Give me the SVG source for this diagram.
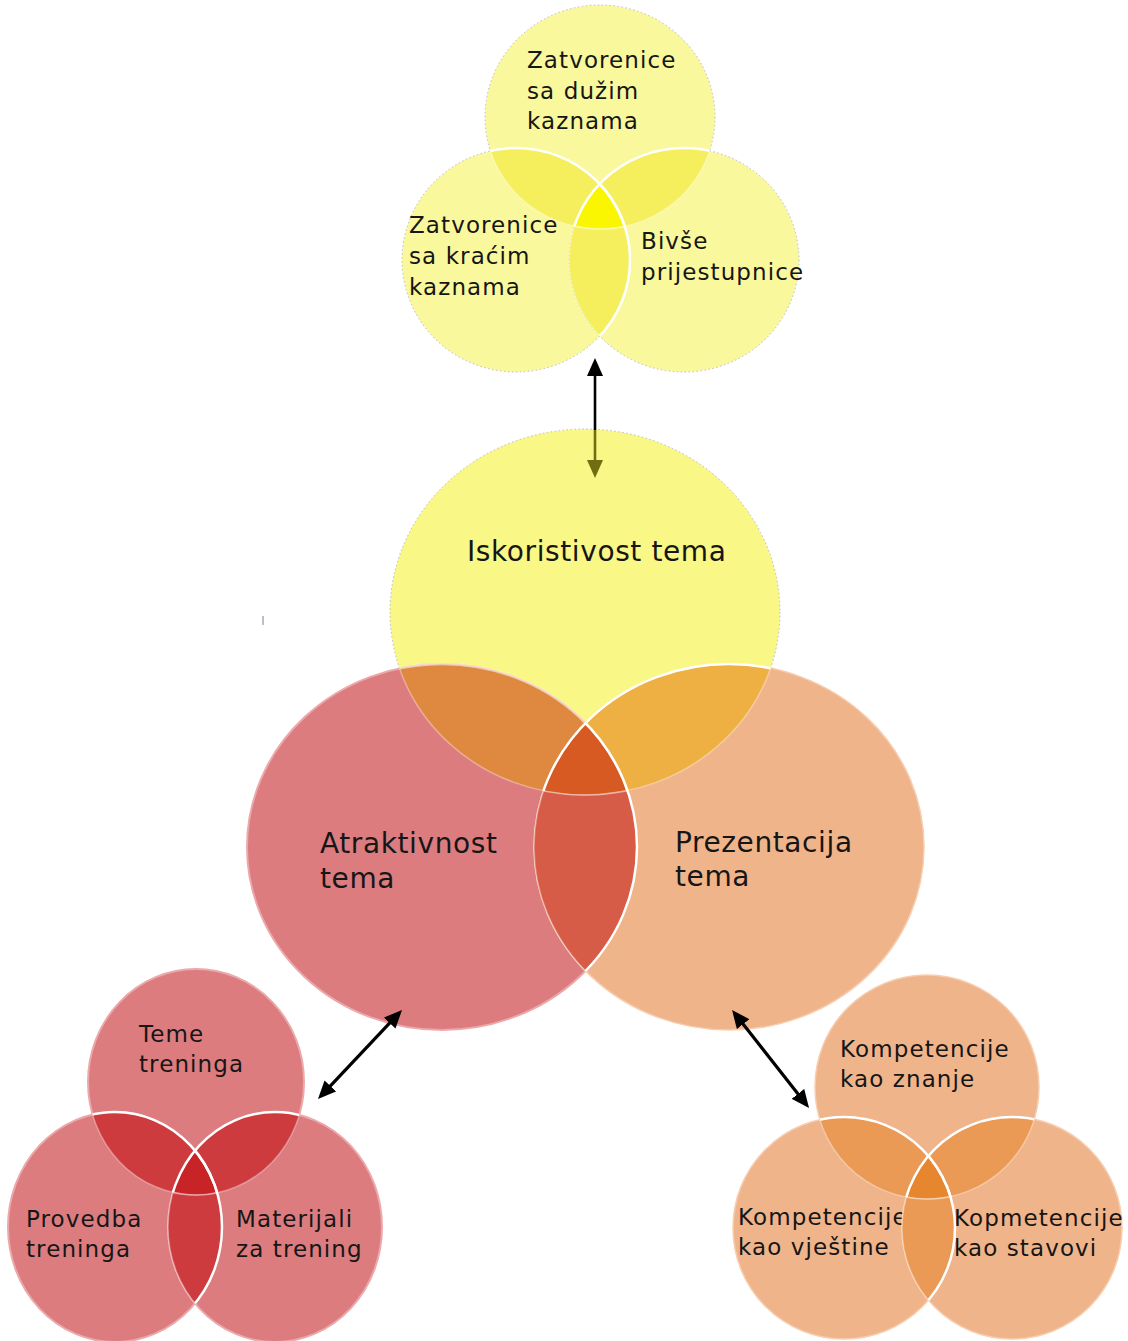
<svg xmlns="http://www.w3.org/2000/svg" xmlns:xlink="http://www.w3.org/1999/xlink" width="1128" height="1341" viewBox="0 0 1128 1341">
<style>
text{font-family:"DejaVu Sans",Verdana,sans-serif;fill:#161616}
.sm{font-size:23px;letter-spacing:1.1px}
.lg{font-size:28px;letter-spacing:0.6px}
.ys{fill:#FAF89C;stroke:#B8B8CC;stroke-width:1;stroke-dasharray:1.5 2.5}
.yb{fill:#F9F785;stroke:#B8B8CC;stroke-width:1;stroke-dasharray:1.5 2.5}
.rs{fill:#DC7C7F;stroke:#EBA9AB;stroke-width:2}
.ps{fill:#F0B48B;stroke:#F6CDB0;stroke-width:1.5}
.ws{fill:none;stroke:#fff;stroke-width:2.5}
.ws2{fill:none;stroke:#fff;stroke-width:2.5;stroke-opacity:.55}
.fs{fill:none;stroke:#fff;stroke-width:1.5;stroke-opacity:.35}
.conn{stroke:#000;stroke-width:3.2;fill:none}
</style>
<defs>
<ellipse id="T1" cx="600" cy="117" rx="115" ry="112"/>
<ellipse id="L1" cx="516" cy="260" rx="114" ry="112"/>
<ellipse id="R1" cx="684" cy="260" rx="115" ry="112"/>
<ellipse id="T2" cx="585" cy="612" rx="195" ry="183"/>
<ellipse id="L2" cx="442" cy="847" rx="195" ry="183"/>
<ellipse id="R2" cx="729" cy="847" rx="195" ry="183"/>
<ellipse id="T3" cx="196" cy="1082" rx="108" ry="113"/>
<ellipse id="L3" cx="115" cy="1227" rx="107" ry="115"/>
<ellipse id="R3" cx="275" cy="1227" rx="107" ry="115"/>
<ellipse id="T4" cx="927" cy="1087" rx="112" ry="112"/>
<ellipse id="L4" cx="844" cy="1228" rx="111" ry="111"/>
<ellipse id="R4" cx="1012" cy="1228" rx="110" ry="111"/>
<clipPath id="cT1"><use xlink:href="#T1"/></clipPath>
<clipPath id="cL1"><use xlink:href="#L1"/></clipPath>
<clipPath id="cR1"><use xlink:href="#R1"/></clipPath>
<clipPath id="cT2"><use xlink:href="#T2"/></clipPath>
<clipPath id="cL2"><use xlink:href="#L2"/></clipPath>
<clipPath id="cR2"><use xlink:href="#R2"/></clipPath>
<clipPath id="cT3"><use xlink:href="#T3"/></clipPath>
<clipPath id="cL3"><use xlink:href="#L3"/></clipPath>
<clipPath id="cR3"><use xlink:href="#R3"/></clipPath>
<clipPath id="cT4"><use xlink:href="#T4"/></clipPath>
<clipPath id="cL4"><use xlink:href="#L4"/></clipPath>
<clipPath id="cR4"><use xlink:href="#R4"/></clipPath>
<marker id="ah" viewBox="0 0 18 16" refX="4" refY="8" markerWidth="18" markerHeight="16" markerUnits="userSpaceOnUse" orient="auto-start-reverse"><path d="M0,0 L18,8 L0,16 z" fill="#000"/></marker>
<marker id="aho" viewBox="0 0 18 16" refX="4" refY="8" markerWidth="18" markerHeight="16" markerUnits="userSpaceOnUse" orient="auto-start-reverse"><path d="M0,0 L18,8 L0,16 z" fill="#6F6F12"/></marker>
</defs>
<rect width="1128" height="1341" fill="#fff"/>

<!-- Top cluster -->
<g id="cluster-korisnice">
<g id="node-duze-kazne"><use xlink:href="#T1" class="ys"/>
<text class="sm" x="527" y="68">Zatvorenice<tspan x="527" y="99">sa dužim</tspan><tspan x="527" y="129">kaznama</tspan></text></g>
<g id="node-krace-kazne"><use xlink:href="#L1" class="ys"/>
<text class="sm" x="409" y="233">Zatvorenice<tspan x="409" y="264">sa kraćim</tspan><tspan x="409" y="295">kaznama</tspan></text></g>
<g id="node-bivse"><use xlink:href="#R1" class="ys"/>
<text class="sm" x="641" y="249">Bivše<tspan x="641" y="280">prijestupnice</tspan></text></g>
<g id="overlaps-1">
<use xlink:href="#L1" clip-path="url(#cT1)" fill="#F5EF5E"/>
<use xlink:href="#R1" clip-path="url(#cT1)" fill="#F5EF5E"/>
<use xlink:href="#R1" clip-path="url(#cL1)" fill="#F5EF5E"/>
<g clip-path="url(#cT1)"><use xlink:href="#R1" clip-path="url(#cL1)" fill="#FAF500"/></g>
<g clip-path="url(#cL1)"><use xlink:href="#T1" class="fs"/><use xlink:href="#R1" class="fs"/></g>
<g clip-path="url(#cR1)"><use xlink:href="#T1" class="fs"/></g>
<g clip-path="url(#cT1)"><use xlink:href="#L1" class="ws"/><use xlink:href="#R1" class="ws"/></g>
<g clip-path="url(#cR1)"><use xlink:href="#L1" class="ws"/></g>
</g>
</g>

<!-- Middle cluster -->
<g id="cluster-teme">
<g id="node-iskoristivost"><use xlink:href="#T2" class="yb"/>
<text class="lg" x="467" y="561">Iskoristivost tema</text></g>
<g id="node-atraktivnost"><use xlink:href="#L2" class="rs"/>
<text class="lg" x="320" y="853">Atraktivnost<tspan x="320" y="888">tema</tspan></text></g>
<g id="node-prezentacija"><use xlink:href="#R2" class="ps"/>
<text class="lg" x="675" y="852">Prezentacija<tspan x="675" y="886">tema</tspan></text></g>
<g id="overlaps-2">
<use xlink:href="#L2" clip-path="url(#cT2)" fill="#DF8840"/>
<use xlink:href="#R2" clip-path="url(#cT2)" fill="#EEB042"/>
<use xlink:href="#R2" clip-path="url(#cL2)" fill="#D75C48"/>
<g clip-path="url(#cT2)"><use xlink:href="#R2" clip-path="url(#cL2)" fill="#D65A22"/></g>
<g clip-path="url(#cL2)"><use xlink:href="#T2" class="fs"/><use xlink:href="#R2" class="fs"/></g>
<g clip-path="url(#cR2)"><use xlink:href="#T2" class="fs"/></g>
<g clip-path="url(#cT2)"><use xlink:href="#L2" class="ws2"/><use xlink:href="#R2" class="ws"/></g>
<g clip-path="url(#cR2)"><use xlink:href="#L2" class="ws"/></g>
</g>
</g>

<!-- Bottom-left cluster -->
<g id="cluster-trening">
<g id="node-teme-treninga"><use xlink:href="#T3" class="rs"/>
<text class="sm" x="139" y="1042">Teme<tspan x="139" y="1072">treninga</tspan></text></g>
<g id="node-provedba"><use xlink:href="#L3" class="rs"/>
<text class="sm" x="26" y="1227">Provedba<tspan x="26" y="1257">treninga</tspan></text></g>
<g id="node-materijali"><use xlink:href="#R3" class="rs"/>
<text class="sm" x="236" y="1227">Materijali<tspan x="236" y="1257">za trening</tspan></text></g>
<g id="overlaps-3">
<use xlink:href="#L3" clip-path="url(#cT3)" fill="#CD3B3F"/>
<use xlink:href="#R3" clip-path="url(#cT3)" fill="#CD3B3F"/>
<use xlink:href="#R3" clip-path="url(#cL3)" fill="#CD3B3F"/>
<g clip-path="url(#cT3)"><use xlink:href="#R3" clip-path="url(#cL3)" fill="#C82428"/></g>
<g clip-path="url(#cL3)"><use xlink:href="#T3" class="fs"/><use xlink:href="#R3" class="fs"/></g>
<g clip-path="url(#cR3)"><use xlink:href="#T3" class="fs"/></g>
<g clip-path="url(#cT3)"><use xlink:href="#L3" class="ws"/><use xlink:href="#R3" class="ws"/></g>
<g clip-path="url(#cR3)"><use xlink:href="#L3" class="ws"/></g>
</g>
</g>

<!-- Bottom-right cluster -->
<g id="cluster-kompetencije">
<g id="node-znanje"><use xlink:href="#T4" class="ps"/>
<text class="sm" x="840" y="1057">Kompetencije<tspan x="840" y="1087">kao znanje</tspan></text></g>
<g id="node-vjestine"><use xlink:href="#L4" class="ps"/>
<text class="sm" x="738" y="1225">Kompetencije<tspan x="738" y="1255">kao vještine</tspan></text></g>
<g id="node-stavovi"><use xlink:href="#R4" class="ps"/>
<text class="sm" x="954" y="1226">Kopmetencije<tspan x="954" y="1256">kao stavovi</tspan></text></g>
<g id="overlaps-4">
<use xlink:href="#L4" clip-path="url(#cT4)" fill="#EB9A55"/>
<use xlink:href="#R4" clip-path="url(#cT4)" fill="#EB9A55"/>
<use xlink:href="#R4" clip-path="url(#cL4)" fill="#EB9A55"/>
<g clip-path="url(#cT4)"><use xlink:href="#R4" clip-path="url(#cL4)" fill="#E6872F"/></g>
<g clip-path="url(#cL4)"><use xlink:href="#T4" class="fs"/><use xlink:href="#R4" class="fs"/></g>
<g clip-path="url(#cR4)"><use xlink:href="#T4" class="fs"/></g>
<g clip-path="url(#cT4)"><use xlink:href="#L4" class="ws"/><use xlink:href="#R4" class="ws"/></g>
<g clip-path="url(#cR4)"><use xlink:href="#L4" class="ws"/></g>
</g>
</g>

<!-- Connectors -->
<g id="connectors">
<line x1="595" y1="372" x2="595" y2="430" stroke="#000" stroke-width="2.6" marker-start="url(#ah)"/>
<line x1="595" y1="430" x2="595" y2="464" stroke="#6F6F12" stroke-width="2.6" marker-end="url(#aho)"/>
<line class="conn" x1="392.4" y1="1020.2" x2="327.6" y2="1088.8" marker-start="url(#ah)" marker-end="url(#ah)"/>
<line class="conn" x1="740.7" y1="1021" x2="800.4" y2="1097" marker-start="url(#ah)" marker-end="url(#ah)"/>
</g>
<line x1="263" y1="616" x2="263" y2="625" stroke="#8C94A8" stroke-width="1.2"/>
</svg>
